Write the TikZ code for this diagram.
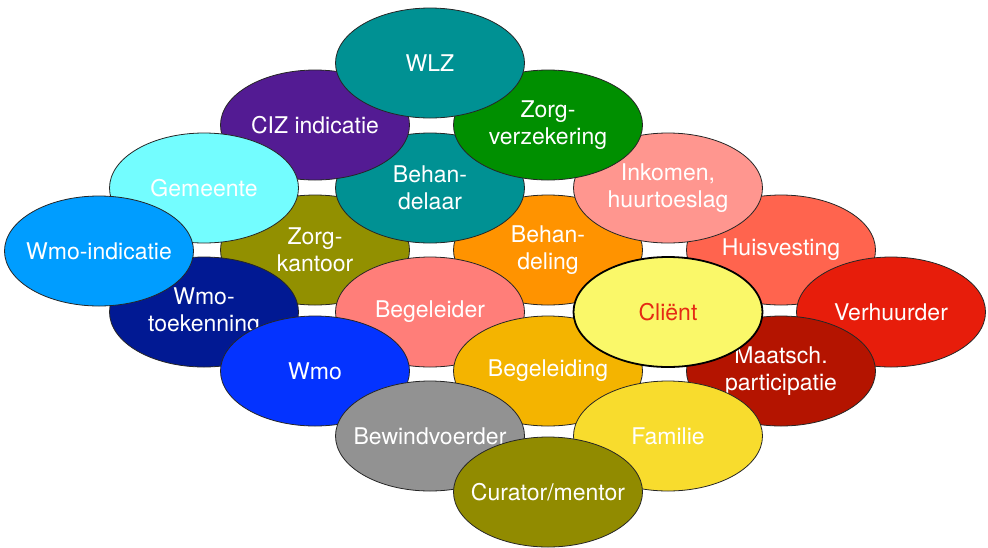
\documentclass[tikz,border=0pt]{standalone}
\usepackage{fontspec}
\setmainfont{TeX Gyre Heros}
\usetikzlibrary{shapes.geometric}
\definecolor{cWLZ}{HTML}{009193}
\definecolor{cCIZ}{HTML}{531B93}
\definecolor{cZV}{HTML}{008F00}
\definecolor{cGem}{HTML}{73FDFF}
\definecolor{cInk}{HTML}{FF968F}
\definecolor{cWind}{HTML}{009DFF}
\definecolor{cZK}{HTML}{929000}
\definecolor{cBhd}{HTML}{FF9300}
\definecolor{cHuis}{HTML}{FF644E}
\definecolor{cWtk}{HTML}{011993}
\definecolor{cBgr}{HTML}{FF7E79}
\definecolor{cCli}{HTML}{FAF869}
\definecolor{cVerh}{HTML}{E71D0B}
\definecolor{cWmo}{HTML}{0433FF}
\definecolor{cBgd}{HTML}{F4B400}
\definecolor{cMaat}{HTML}{B41400}
\definecolor{cBew}{HTML}{929292}
\definecolor{cFam}{HTML}{F8DC2D}
\definecolor{cCur}{HTML}{918B00}
\definecolor{cCliText}{HTML}{E52A14}
\tikzset{
  oval/.style={ellipse, draw=black!85, line width=0.8pt, minimum width=189pt, minimum height=110pt, inner sep=0pt},
  lbl/.style={text=white, font=\fontsize{23}{26.5}\selectfont, align=center, inner sep=0pt},
}
\begin{document}
\begin{tikzpicture}[x=1pt,y=-1pt]
\useasboundingbox (0,0) rectangle (988,547);
% bottom layers first
\node[oval, fill=cBhd, label={[lbl]center:Behan-\\deling}] (behandeling) at (548,250) {};
\node[oval, fill=cZK, label={[lbl]center:Zorg-\\kantoor}] (zorgkantoor) at (315,250) {};
\node[oval, fill=cHuis, label={[lbl]center:Huisvesting}] (huisvesting) at (781,250) {};
\node[oval, fill=cWLZ, label={[lbl]center:Behan-\\delaar}] (behandelaar) at (430,188) {};
\node[oval, fill=cBgr, label={[lbl]center:Begeleider}] (begeleider) at (430,312) {};
\node[oval, fill=cInk, label={[lbl]center:Inkomen,\\huurtoeslag}] (inkomen) at (668,188) {};
\node[oval, fill=cCIZ, label={[lbl]center:CIZ indicatie}] (ciz) at (315,125) {};
\node[oval, fill=cZV, label={[lbl]center:Zorg-\\verzekering}] (zorgverz) at (548,125) {};
\node[oval, fill=cWLZ, label={[lbl]center:WLZ}] (wlz) at (430,63) {};
\node[oval, fill=cGem, label={[lbl]center:Gemeente}] (gemeente) at (204,188) {};
\node[oval, fill=cWtk, label={[lbl]center:Wmo-\\toekenning}] (wmotoek) at (204,312) {};
\node[oval, fill=cWind, label={[lbl]center:Wmo-indicatie}] (wmoind) at (99,251) {};
\node[oval, fill=cWmo, label={[lbl]center:Wmo}] (wmo) at (315,371) {};
\node[oval, fill=cBgd, label={[lbl]center:Begeleiding}] (begeleiding) at (548,371) {};
\node[oval, fill=cVerh, label={[lbl]center:Verhuurder}] (verhuurder) at (891,312) {};
\node[oval, fill=cMaat, label={[lbl]center:Maatsch.\\participatie}] (maatsch) at (781,371) {};
\node[oval, fill=cBew, label={[lbl]center:Bewindvoerder}] (bewind) at (430,436) {};
\node[oval, fill=cFam, label={[lbl]center:Familie}] (familie) at (668,436) {};
\node[oval, fill=cCur, label={[lbl]center:Curator/mentor}] (curator) at (548,492) {};
\node[oval, fill=cCli, line width=1.8pt, draw=black, label={[lbl, text=cCliText]center:Cliënt}] (client) at (668,312) {};
\end{tikzpicture}
\end{document}
